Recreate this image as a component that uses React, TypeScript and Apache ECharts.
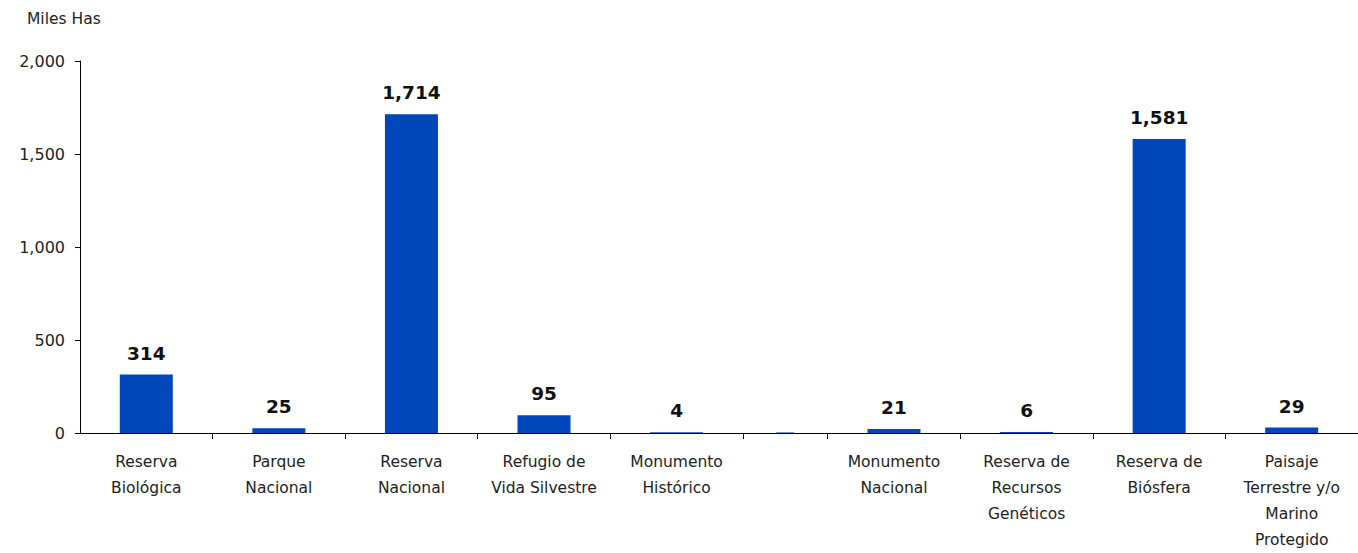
import React, { useEffect, useRef } from "react";
import * as echarts from "echarts";

const categories = [
  "Reserva\nBiológica",
  "Parque\nNacional",
  "Reserva\nNacional",
  "Refugio de\nVida Silvestre",
  "Monumento\nHistórico",
  "",
  "Monumento\nNacional",
  "Reserva de\nRecursos\nGenéticos",
  "Reserva de\nBiósfera",
  "Paisaje\nTerrestre y/o\nMarino\nProtegido",
];
const values = [314, 25, 1714, 95, 4, 3, 21, 6, 1581, 29];
const showValue = [true, true, true, true, true, false, true, true, true, true];
// relative width of each category slot on the x axis
const slotWidths = [1, 1, 1, 1, 1, 0.64, 1, 1, 1, 1];
const narrowIndex = 5;
const yTicks = [0, 500, 1000, 1500, 2000];
const axisName = "Miles Has";

const FONT = "'DejaVu Sans', sans-serif";
const BAR = "#0047BB";
const TEXT = "#222222";

export default function App() {
  const ref = useRef<HTMLDivElement>(null);
  useEffect(() => {
    if (!ref.current) return;
    const chart = echarts.init(ref.current, null, { renderer: "svg" });

    const bounds: number[] = [0];
    slotWidths.forEach((w, i) => bounds.push(bounds[i] + w));
    const total = bounds[bounds.length - 1];
    const centers = slotWidths.map((w, i) => bounds[i] + w / 2);
    const innerBounds = bounds.slice(1, bounds.length - 1);

    const mainData = values
      .map((v, i) => ({ value: [centers[i], v], idx: i }))
      .filter((d) => d.idx !== narrowIndex)
      .map((d) => ({
        value: d.value,
        label: { show: showValue[d.idx] },
      }));
    const narrowData = [{ value: [centers[narrowIndex], values[narrowIndex]], label: { show: showValue[narrowIndex] } }];

    const labelFor = (v: number) => {
      const i = centers.findIndex((c) => Math.abs(c - v) < 1e-6);
      return i >= 0 ? categories[i] : "";
    };

    const xBase = {
      type: "value",
      min: 0,
      max: total,
      splitLine: { show: false },
    };

    chart.setOption({
      animation: false,
      textStyle: { fontFamily: FONT },
      grid: { left: 80, right: 0, top: 61, bottom: 116, containLabel: false },
      graphic: [
        {
          type: "text",
          left: 27,
          top: 11,
          style: { text: axisName, fontFamily: FONT, fontSize: 15.5, fill: TEXT },
        },
      ],
      xAxis: [
        {
          ...xBase,
          axisLine: { show: true, lineStyle: { color: "#000", width: 1 } },
          axisTick: {
            show: true,
            length: 6,
            lineStyle: { color: "#000" },
            customValues: innerBounds,
          },
          axisLabel: {
            show: true,
            customValues: centers,
            formatter: (v: number) => labelFor(v),
            fontFamily: FONT,
            fontSize: 15.5,
            lineHeight: 26,
            color: TEXT,
            margin: 16,
            align: "center",
            verticalAlign: "top",
          },
        },
        { ...xBase, show: false },
      ],
      yAxis: {
        type: "value",
        min: 0,
        max: 2000,
        interval: 500,
        splitLine: { show: false },
        axisLine: { show: true, lineStyle: { color: "#000", width: 1 } },
        axisTick: { show: true, length: 5, lineStyle: { color: "#000" } },
        axisLabel: {
          fontFamily: FONT,
          fontSize: 16,
          color: TEXT,
          margin: 15,
          formatter: (v: number) =>
            yTicks.includes(v) ? v.toLocaleString("en-US") : "",
        },
      },
      series: [
        {
          type: "bar",
          xAxisIndex: 0,
          barWidth: 53,
          itemStyle: { color: BAR },
          data: mainData,
          label: {
            show: true,
            position: "top",
            distance: 12,
            fontFamily: FONT,
            fontSize: 18.5,
            fontWeight: "bold",
            color: "#111",
            formatter: (p: any) => Number(p.value[1]).toLocaleString("en-US"),
          },
        },
        {
          type: "bar",
          xAxisIndex: 1,
          barWidth: 18,
          itemStyle: { color: BAR },
          data: narrowData,
          label: { show: false },
        },
      ],
    });
    return () => chart.dispose();
  }, []);
  return (
    <div
      ref={ref}
      style={{ position: "fixed", left: 0, top: 0, width: 1358, height: 553, background: "#fff" }}
    />
  );
}
